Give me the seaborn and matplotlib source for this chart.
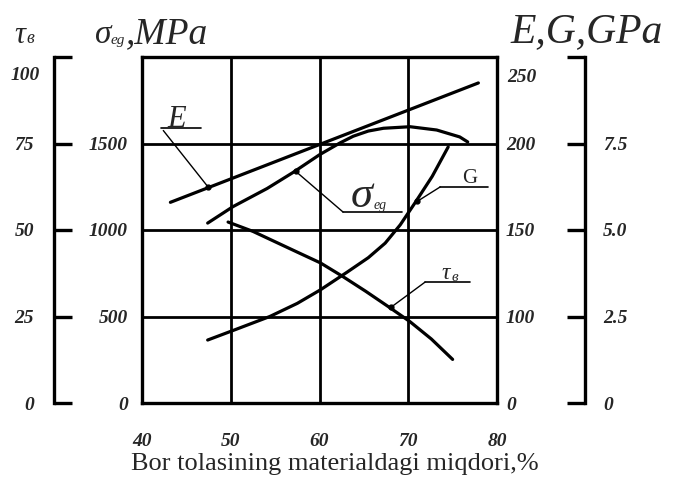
import numpy as np
import pandas as pd
import seaborn as sns
import matplotlib.pyplot as plt

sns.set_style('white')
plt.rcParams['font.family'] = ['Liberation Serif', 'DejaVu Serif']

# ---- data ----
x_ticks = [40, 50, 60, 70, 80]
sigma_ticks = [0, 500, 1000, 1500, 2000]
sigma_ticklabels = ['0', '500', '1000', '1500', '']
E_ticks = [50, 100, 150, 200]
E_ticklabels = ['0', '100', '150', '200']
tau_ticks = [0, 25, 50, 75, 100]
tau_ticklabels = ['0', '25', '50', '75', '']
G_ticks = [0, 2.5, 5.0, 7.5, 10]
G_ticklabels = ['0', '2.5', '5.0', '7.5', '']

x_E = [43.2, 77.9]
E_vals = [166, 235]

x_sigma = [47.4, 50.25, 54.1, 57.0, 60.0, 62.3, 63.8, 65.5, 67.2, 70.2, 73.2, 75.8, 76.7]
sigma_vals = [1040, 1135, 1240, 1332, 1435, 1503, 1542, 1572, 1588, 1597, 1578, 1538, 1509]

x_tau = [49.7, 52.5, 55.0, 57.5, 60.1, 62.6, 65.2, 67.9, 70.2, 72.6, 75.0]
tau_vals = [52.3, 49.6, 46.6, 43.6, 40.5, 36.6, 32.3, 27.6, 23.5, 18.5, 12.6]

x_G = [47.4, 50.3, 54.4, 57.5, 60.1, 63.1, 65.5, 67.4, 69.1, 70.8, 72.7, 74.5]
G_vals = [1.82, 2.10, 2.50, 2.88, 3.27, 3.78, 4.20, 4.62, 5.15, 5.80, 6.55, 7.40]

# ---- layout ----
W, H = 673, 488
L, R, T, B = 142, 497, 57, 403
fig = plt.figure(figsize=(W / 100, H / 100), dpi=100)
ax = fig.add_axes([L / W, 1 - B / H, (R - L) / W, (B - T) / H])

px = 72 / 100  # points per pixel
tick_font = dict(fontsize=14, fontstyle='italic', fontweight='bold')

ax.set_xlim(40, 80)
ax.set_ylim(0, 2000)
ax.set_xticks(x_ticks)
ax.set_xticklabels([str(v) for v in x_ticks], **tick_font)
ax.set_yticks(sigma_ticks)
ax.set_yticklabels(sigma_ticklabels, **tick_font)
ax.tick_params(axis='x', length=0, pad=30 * px)
ax.tick_params(axis='y', length=0, pad=14 * px)
ax.grid(True, color='black', lw=2.0)
for s in ax.spines.values():
    s.set_visible(True)
    s.set_color('black')
    s.set_linewidth(2.4)

# E axis (right side of main box)
ax_e = ax.twinx()
ax_e.set_ylim(50, 250)
ax_e.set_yticks(E_ticks)
ax_e.set_yticklabels(E_ticklabels, **tick_font)
ax_e.tick_params(axis='y', length=0, pad=9 * px)
for s in ax_e.spines.values():
    s.set_visible(False)
ax_e.grid(False)

# tau axis (far left)
ax_t = ax.twinx()
ax_t.set_ylim(0, 100)
ax_t.yaxis.set_ticks_position('left')
ax_t.spines['left'].set_position(('axes', (54 - L) / (R - L)))
for k, s in ax_t.spines.items():
    s.set_visible(k == 'left')
ax_t.spines['left'].set_linewidth(2.4)
ax_t.spines['left'].set_color('black')
ax_t.set_yticks(tau_ticks)
ax_t.set_yticklabels(tau_ticklabels, **tick_font)
ax_t.tick_params(axis='y', direction='in', length=18 * px, width=2.4, pad=20 * px, color='black')
ax_t.grid(False)

# G axis (far right)
ax_g = ax.twinx()
ax_g.set_ylim(0, 10)
ax_g.spines['right'].set_position(('axes', (585 - L) / (R - L)))
for k, s in ax_g.spines.items():
    s.set_visible(k == 'right')
ax_g.spines['right'].set_linewidth(2.4)
ax_g.spines['right'].set_color('black')
ax_g.set_yticks(G_ticks)
ax_g.set_yticklabels(G_ticklabels, **tick_font)
ax_g.tick_params(axis='y', direction='in', length=18 * px, width=2.4, pad=18 * px, color='black')
ax_g.grid(False)

# ---- curves ----
lw = 2.3
sns.lineplot(x=x_E, y=E_vals, ax=ax_e, color='black', lw=lw, estimator=None)
sns.lineplot(x=x_sigma, y=sigma_vals, ax=ax, color='black', lw=lw, estimator=None)
sns.lineplot(x=x_tau, y=tau_vals, ax=ax_t, color='black', lw=lw, estimator=None)
sns.lineplot(x=x_G, y=G_vals, ax=ax_g, color='black', lw=lw, estimator=None)
for a in (ax_e, ax_t, ax_g):
    a.set_xlim(40, 80)
    a.set_xlabel('')
    a.set_ylabel('')

# ---- callouts (in main axes data coords) ----
def callout(ax, under, leader, mark):
    ax.plot(under[0], under[1], color='black', lw=1.2)
    ax.plot(leader[0], leader[1], color='black', lw=1.0)
    ax.plot([mark[0]], [mark[1]], 'o', color='black', ms=3.5)

callout(ax, ([42.1, 46.7], [1590, 1590]), ([42.4, 47.44], [1575, 1249]), (47.44, 1249))
ax.text(43.9, 1640, 'E', fontsize=22, fontstyle='italic', ha='center', va='center')

callout(ax, ([62.65, 69.3], [1104, 1104]), ([62.65, 57.3], [1104, 1340]), (57.3, 1340))
ax.text(64.7, 1195, 'σ', fontsize=32, fontstyle='italic', ha='center', va='center')
ax.text(66.1, 1140, 'eg', fontsize=10, fontstyle='italic', ha='left', va='center')

callout(ax, ([73.6, 79.0], [1249, 1249]), ([73.6, 71.0], [1249, 1165]), (71.0, 1165))
ax.text(76.9, 1300, 'G', fontsize=15, ha='center', va='center')

callout(ax, ([71.9, 77.0], [699, 699]), ([71.9, 68.1], [699, 555]), (68.1, 555))
ax.text(74.2, 748, 'τ', fontsize=17, fontstyle='italic', ha='center', va='center')
ax.text(74.9, 728, 'в', fontsize=11, fontstyle='italic', ha='left', va='center')

# ---- titles and extra labels ----
fig.text(25 / W, 1 - 75 / H, '100', ha='center', va='center', **tick_font)
fig.text(507 / W, 1 - 77 / H, '250', ha='left', va='center', **tick_font)

fig.text(14 / W, 1 - 43 / H, 'τ', fontsize=22, fontstyle='italic', va='baseline')
fig.text(26 / W, 1 - 43 / H, 'в', fontsize=13, fontstyle='italic', va='baseline')
fig.text(95 / W, 1 - 43 / H, 'σ', fontsize=24, fontstyle='italic', va='baseline')
fig.text(111 / W, 1 - 44 / H, 'eg', fontsize=11, fontstyle='italic', va='baseline')
fig.text(126 / W, 1 - 43 / H, ',MPa', fontsize=27, fontstyle='italic', va='baseline')
fig.text(510 / W, 1 - 42 / H, 'E,G,GPa', fontsize=30, fontstyle='italic', va='baseline')

fig.text(335 / W, 1 - 464 / H, 'Bor tolasining materialdagi miqdori,%', fontsize=19,
         ha='center', va='center')

fig.savefig('out.png', dpi=100, facecolor='white')
